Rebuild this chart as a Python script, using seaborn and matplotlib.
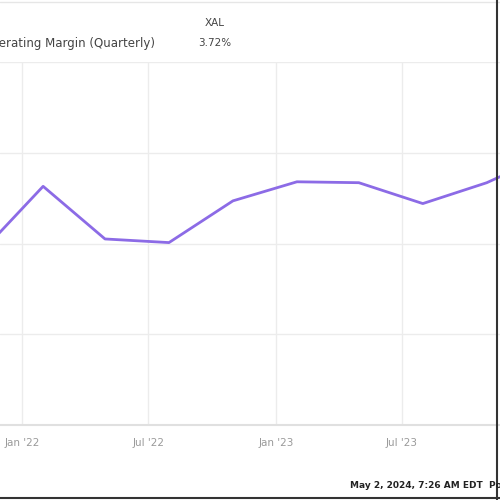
import pandas as pd
import matplotlib
matplotlib.use("Agg")
import matplotlib.pyplot as plt
import seaborn as sns

dates = ["2021-10-31", "2022-01-31", "2022-04-30", "2022-07-31", "2022-10-31",
         "2023-01-31", "2023-04-30", "2023-07-31", "2023-10-31", "2024-01-31"]
margin = [1.88, 2.63, 2.05, 2.01, 2.47, 2.68, 2.67, 2.44, 2.67, 2.99]
tick_dates = ["2022-01-01", "2022-07-01", "2023-01-01", "2023-07-01"]
tick_labels = ["Jan '22", "Jul '22", "Jan '23", "Jul '23"]

df = pd.DataFrame({"date": pd.to_datetime(dates), "margin": margin})

sns.set_style("white")
plt.rcParams["font.family"] = ["DejaVu Sans"]

fig = plt.figure(figsize=(5, 5), dpi=100)
ax = fig.add_axes([0.0, 0.15, 1.0, 0.726])

sns.lineplot(data=df, x="date", y="margin", ax=ax, color="#8c6be6", linewidth=2)

ax.set_xlim(pd.Timestamp("2021-11-30"), pd.Timestamp("2023-11-19"))
ax.set_ylim(0, 4)
ax.set_yticks([0, 1, 2, 3, 4])
ax.set_yticklabels([])
ax.set_xticks(pd.to_datetime(tick_dates))
ax.set_xticklabels(tick_labels, color="#9a9a9a", fontsize=7.5)
ax.tick_params(axis="x", length=4, color="#e8e8e8", pad=5)
ax.tick_params(axis="y", length=0)
ax.grid(True, color="#ececec", linewidth=1)
ax.set_xlabel("")
ax.set_ylabel("")
for side in ["top", "right", "left"]:
    ax.spines[side].set_visible(False)
ax.spines["bottom"].set_color("#e0e0e0")
ax.spines["bottom"].set_linewidth(1.5)

# legend header (cropped on the left in the source)
fig.add_artist(plt.Line2D([0, 1], [0.996, 0.996], color="#e6e6e6", linewidth=1))
fig.text(0.31, 0.913, "Operating Margin (Quarterly)", ha="right", va="center",
         fontsize=8.5, color="#444444")
fig.text(0.43, 0.955, "XAL", ha="center", va="center", fontsize=7.5, color="#444444")
fig.text(0.43, 0.913, "3.72%", ha="center", va="center", fontsize=7.5, color="#444444")

fig.text(0.70, 0.03, "May 2, 2024, 7:26 AM EDT  Powered by YCHARTS", ha="left",
         va="center", fontsize=6.5, color="#222222", fontweight="bold")

# dark frame on right and bottom edges
fig.add_artist(plt.Line2D([0.993, 0.993], [0, 1], color="#333333", linewidth=1.5))
fig.add_artist(plt.Line2D([0, 1], [0.005, 0.005], color="#333333", linewidth=1.5))

fig.savefig("out.png", dpi=100)
